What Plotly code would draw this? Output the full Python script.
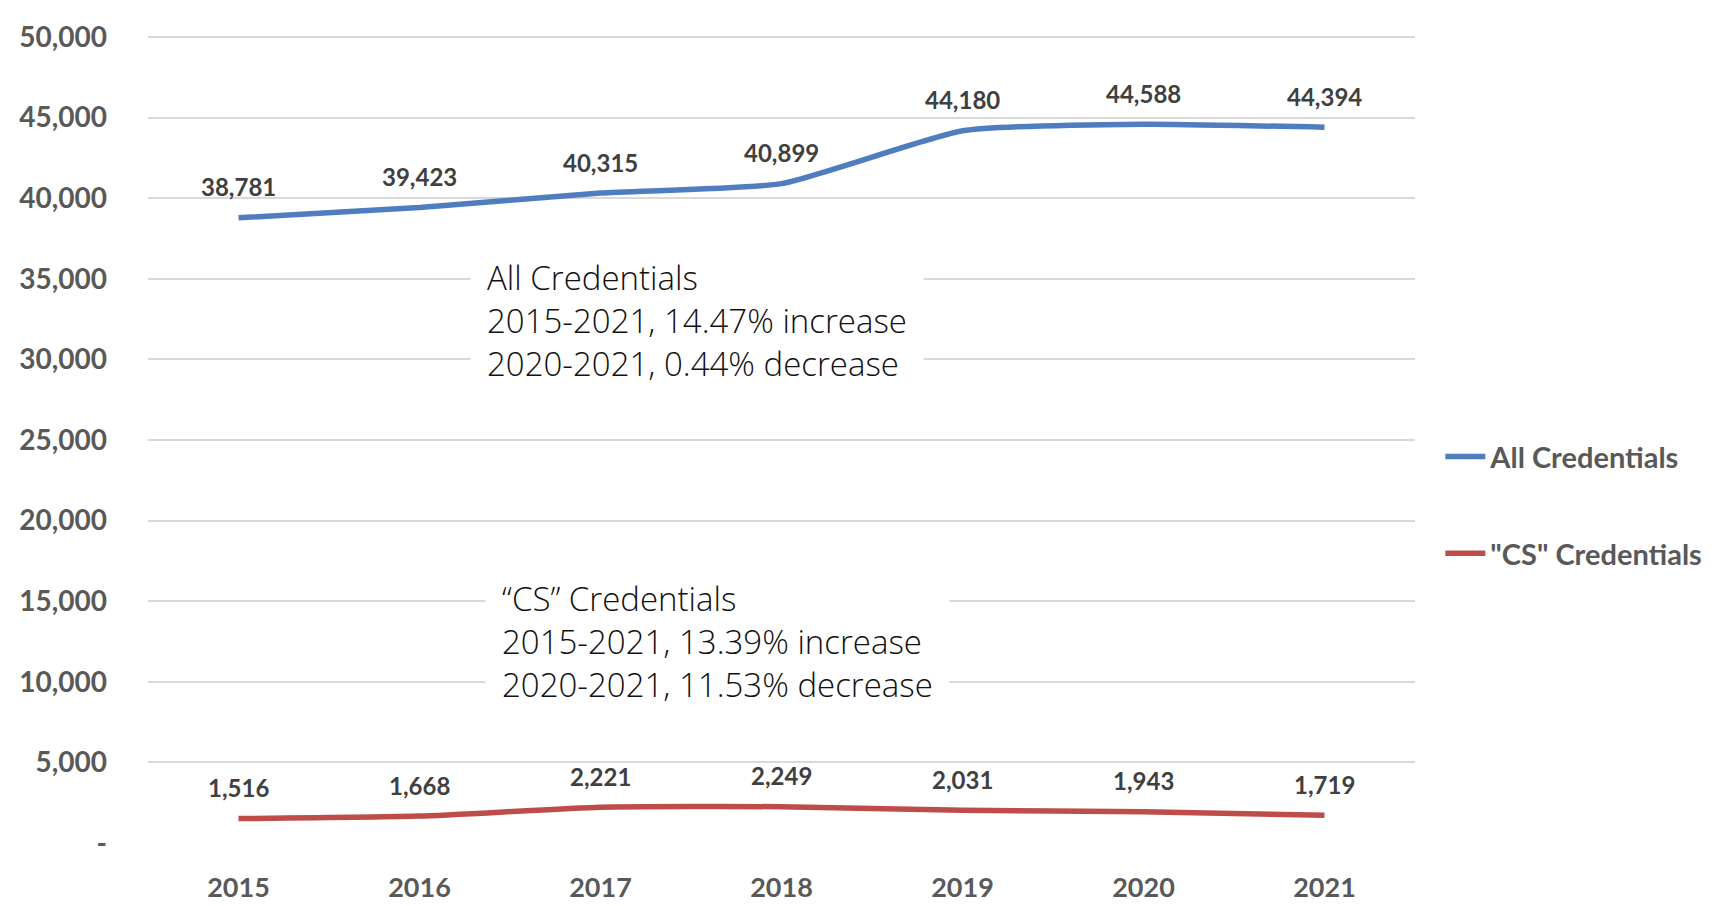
import plotly.graph_objects as go

years = ["2015", "2016", "2017", "2018", "2019", "2020", "2021"]
all_creds = [38781, 39423, 40315, 40899, 44180, 44588, 44394]
cs_creds = [1516, 1668, 2221, 2249, 2031, 1943, 1719]
series_names = ["All Credentials", "\"CS\" Credentials"]
series_colors = ["#4F7DBF", "#BE4D4A"]
y_tickvals = [0, 5000, 10000, 15000, 20000, 25000, 30000, 35000, 40000, 45000, 50000]
y_ticktext = ["-", "5,000", "10,000", "15,000", "20,000", "25,000", "30,000",
              "35,000", "40,000", "45,000", "50,000"]
note_all = ["All Credentials", "2015-2021, 14.47% increase", "2020-2021, 0.44% decrease"]
note_cs = ["\u201cCS\u201d Credentials", "2015-2021, 13.39% increase", "2020-2021, 11.53% decrease"]

label_font = dict(family="Lato", size=24, color="#404040", weight="bold")
ytick_font = dict(family="Lato", size=28, color="#595959", weight="bold")
xtick_font = dict(family="Lato", size=27, color="#595959", weight="bold")
note_font = dict(family="Open Sans", size=33, color="#111111", weight=300)

fig = go.Figure()
for name, vals, col in zip(series_names, [all_creds, cs_creds], series_colors):
    fig.add_trace(go.Scatter(
        x=years, y=vals, name=name, mode="lines", legendgroup=name,
        line=dict(color=col, width=5.5, shape="spline", smoothing=0.5),
        hoverinfo="skip",
    ))
    for i, yv in enumerate(vals):
        fig.add_annotation(x=i, y=yv, xref="x", yref="y", text=f"{yv:,}",
                           showarrow=False, yshift=31, font=label_font)

fig.add_annotation(xref="paper", yref="y", x=0.254, y=32430, xanchor="left",
                   yanchor="middle", align="left", text="<br>".join(note_all),
                   showarrow=False, bgcolor="white", borderpad=16, font=note_font)
fig.add_annotation(xref="paper", yref="y", x=0.2656, y=12530, xanchor="left",
                   yanchor="middle", align="left", text="<br>".join(note_cs),
                   showarrow=False, bgcolor="white", borderpad=16, font=note_font)

fig.update_layout(
    width=1725, height=906,
    margin=dict(l=125, r=318, t=11, b=59),
    plot_bgcolor="white", paper_bgcolor="white",
    showlegend=True,
    legend=dict(x=1.020, y=0.418, xanchor="left", yanchor="middle",
                font=dict(family="Lato", size=29, color="#595959", weight="bold"),
                tracegroupgap=56, itemwidth=40, bgcolor="rgba(0,0,0,0)"),
    xaxis=dict(type="category", showgrid=False, zeroline=False, showline=False,
               tickfont=xtick_font, ticks="", ticklabelstandoff=26,
               range=[-0.5, 6.5]),
    yaxis=dict(range=[0, 50120], tickvals=y_tickvals, ticktext=y_ticktext,
               showgrid=True, gridcolor="#D9D9D9", gridwidth=2, zeroline=False,
               showline=False, tickfont=ytick_font, ticks="", ticklabelstandoff=40,
               ticklabeloverflow="allow"),
)

fig.write_html("out.html")
